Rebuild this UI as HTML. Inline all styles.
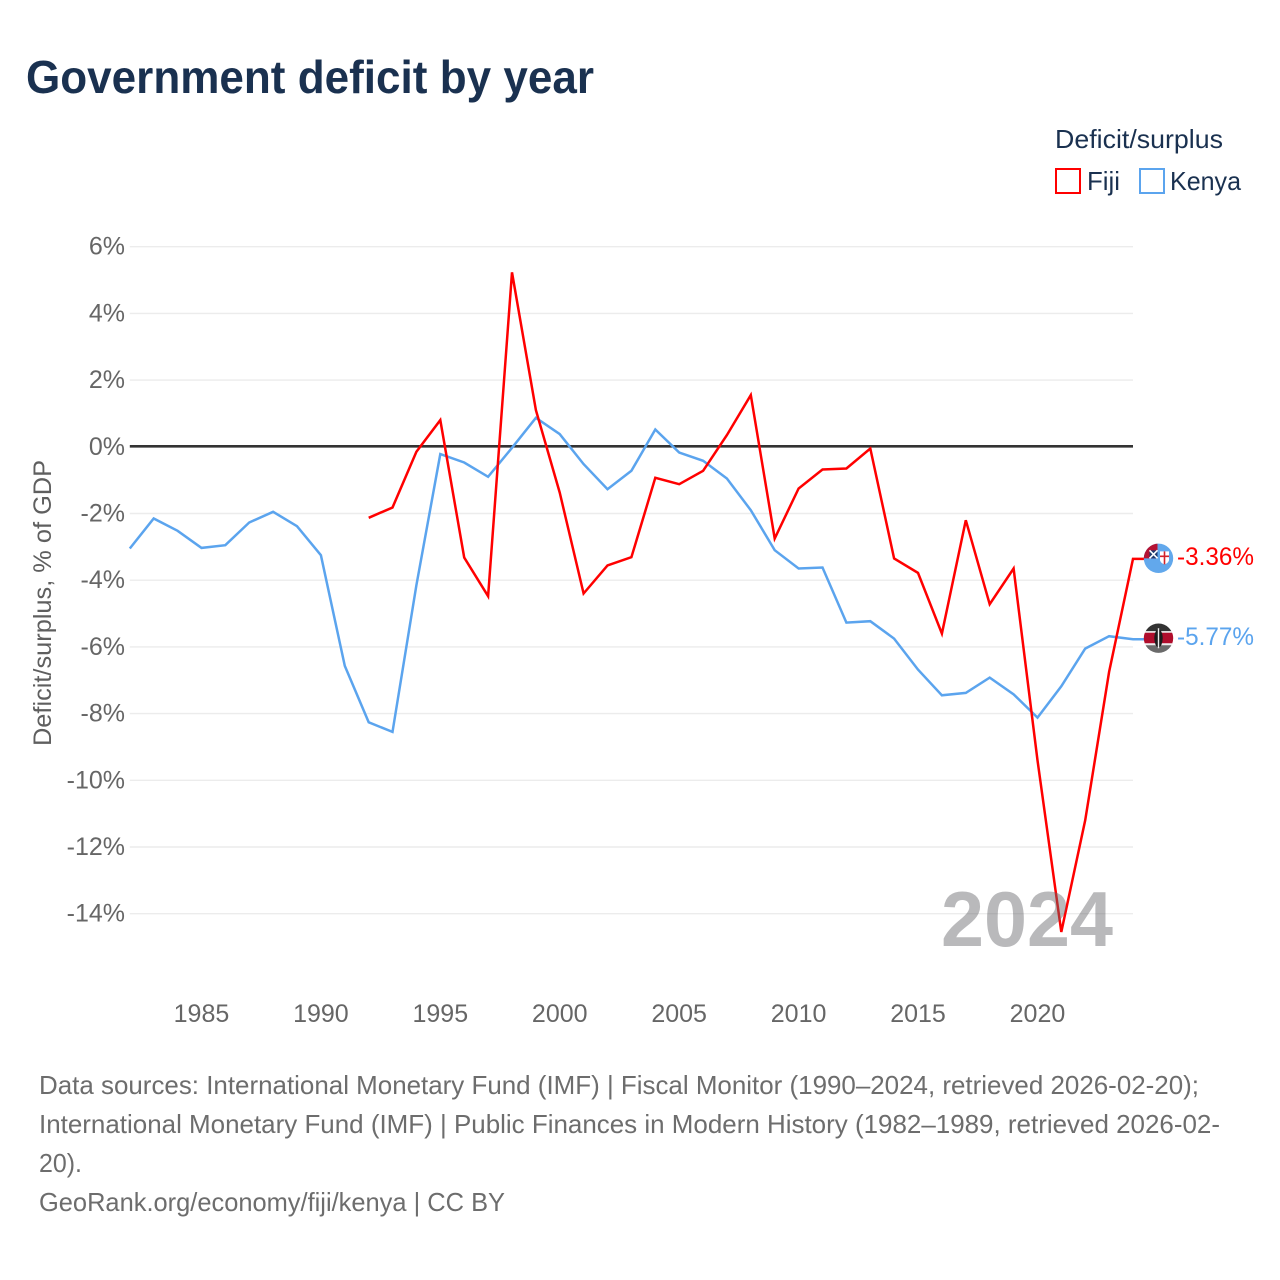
<!DOCTYPE html>
<html lang="en">
<head>
<meta charset="utf-8">
<title>Government deficit by year</title>
<style>
html,body{margin:0;padding:0;background:#fff;}
svg{display:block;font-family:"Liberation Sans",sans-serif;}
</style>
</head>
<body>
<svg id="chart" xmlns="http://www.w3.org/2000/svg" width="1280" height="1280" viewBox="0 0 1280 1280">
  <rect width="1280" height="1280" fill="#fff"/>
  <text x="26" y="93" font-size="46" font-weight="700" fill="#1a3150" textLength="568" lengthAdjust="spacingAndGlyphs">Government deficit by year</text>

  <g>
    <text x="1055" y="148" font-size="26" fill="#1a3150" textLength="168" lengthAdjust="spacingAndGlyphs">Deficit/surplus</text>
    <g>
      <rect x="1056" y="169" width="24" height="24" fill="#fff" stroke="#ff0000" stroke-width="2"/>
      <text x="1087" y="190" font-size="26" fill="#1a3150" textLength="33" lengthAdjust="spacingAndGlyphs">Fiji</text>
    </g>
    <g>
      <rect x="1140" y="169" width="24" height="24" fill="#fff" stroke="#5ba4ee" stroke-width="2"/>
      <text x="1170" y="190" font-size="26" fill="#1a3150" textLength="71" lengthAdjust="spacingAndGlyphs">Kenya</text>
    </g>
  </g>

  <text transform="translate(51,603) rotate(-90)" text-anchor="middle" font-size="25" fill="#5f5f5f" textLength="286" lengthAdjust="spacingAndGlyphs">Deficit/surplus, % of GDP</text>

  <g id="grid"></g>
  <g id="yticks"></g>
  <g id="xticks"></g>
  <line id="zero" stroke="#333" stroke-width="2.6"></line>
  <g id="series"></g>

  <text x="1113" y="946" text-anchor="end" font-size="78" font-weight="700" fill="rgba(100,100,105,.45)" textLength="172" lengthAdjust="spacingAndGlyphs">2024</text>

  <defs>
    <clipPath id="flag-clip"><circle cx="0" cy="0" r="14.7"/></clipPath>
  </defs>

  <g id="flag-fiji" clip-path="url(#flag-clip)">
    <rect x="-16" y="-16" width="32" height="32" fill="#62a8ec"/>
    <rect x="-16" y="-16" width="15" height="16" fill="#b51233"/>
    <rect x="-9" y="-8" width="8" height="8" fill="#1d3a70"/>
    <path d="M-9 -8 L-1 0 M-1 -8 L-9 0" stroke="#fff" stroke-width="1.6"/>
    <path d="M1.5 -7 H10.5 V2 Q9.5 5 6 6 Q2.5 5 1.5 2 Z" fill="#fff"/>
    <path d="M6 -7 V6 M1.5 -2 H10.5" stroke="#d2232a" stroke-width="1.6"/>
  </g>
  <g id="flag-kenya" clip-path="url(#flag-clip)">
    <rect x="-16" y="-16" width="32" height="9" fill="#333"/>
    <rect x="-16" y="-7" width="32" height="2" fill="#eee"/>
    <rect x="-16" y="-5.5" width="32" height="11" fill="#b00d2c"/>
    <rect x="-16" y="5" width="32" height="2" fill="#eee"/>
    <rect x="-16" y="7" width="32" height="9" fill="#6a6a6a"/>
    <ellipse cx="0" cy="0" rx="4.2" ry="9" fill="#1c1c1c"/>
    <rect x="-0.7" y="-10" width="1.4" height="20" fill="#eee"/>
  </g>
  <g id="end-labels"></g>

  <g font-size="26" fill="#6d6d6d">
    <text x="39" y="1094" textLength="1160" lengthAdjust="spacingAndGlyphs">Data sources: International Monetary Fund (IMF) | Fiscal Monitor (1990–2024, retrieved 2026-02-20);</text>
    <text x="39" y="1133" textLength="1181" lengthAdjust="spacingAndGlyphs">International Monetary Fund (IMF) | Public Finances in Modern History (1982–1989, retrieved 2026-02-</text>
    <text x="39" y="1172" textLength="43" lengthAdjust="spacingAndGlyphs">20).</text>
    <text x="39" y="1211" textLength="466" lengthAdjust="spacingAndGlyphs">GeoRank.org/economy/fiji/kenya | CC BY</text>
  </g>
</svg>
<script>
const years = [1982,1983,1984,1985,1986,1987,1988,1989,1990,1991,1992,1993,1994,1995,1996,1997,1998,1999,2000,2001,2002,2003,2004,2005,2006,2007,2008,2009,2010,2011,2012,2013,2014,2015,2016,2017,2018,2019,2020,2021,2022,2023,2024];
const fijiValues = [null,null,null,null,null,null,null,null,null,null,-2.13,-1.82,-0.15,0.8,-3.32,-4.48,5.23,1.1,-1.37,-4.4,-3.56,-3.31,-0.93,-1.12,-0.72,0.35,1.55,-2.75,-1.25,-0.68,-0.65,-0.05,-3.35,-3.78,-5.6,-2.2,-4.72,-3.65,-9.4,-14.55,-11.2,-6.75,-3.36];
const kenyaValues = [-3.05,-2.15,-2.52,-3.03,-2.95,-2.27,-1.95,-2.38,-3.25,-6.57,-8.26,-8.55,-4.15,-0.22,-0.47,-0.9,-0.03,0.87,0.38,-0.52,-1.27,-0.72,0.52,-0.17,-0.42,-0.95,-1.9,-3.1,-3.65,-3.62,-5.27,-5.23,-5.75,-6.68,-7.45,-7.38,-6.92,-7.42,-8.12,-7.18,-6.05,-5.68,-5.77];
const yTickValues = [6,4,2,0,-2,-4,-6,-8,-10,-12,-14];
const xTickValues = [1985,1990,1995,2000,2005,2010,2015,2020];

const NS = 'http://www.w3.org/2000/svg';
const plotLeft = 129.8, plotRight = 1133;
const xScale = function (yr) { return plotLeft + (yr - years[0]) * (plotRight - plotLeft) / (years[years.length - 1] - years[0]); };
const yScale = function (v) { return 446.8 - v * 33.35; };

function make(tag, attrs, parent) {
  const el = document.createElementNS(NS, tag);
  for (const k in attrs) el.setAttribute(k, attrs[k]);
  parent.appendChild(el);
  return el;
}

const gridG = document.getElementById('grid');
const yTickG = document.getElementById('yticks');
yTickValues.forEach(function (v) {
  if (v !== 0) {
    const ln = make('line', {x1: plotLeft, x2: plotRight, y1: yScale(v), y2: yScale(v), stroke: '#ececec', 'stroke-width': 1.4}, gridG);
    
    
  }
  const t = make('text', {x: 125, y: yScale(v) + 8, 'text-anchor': 'end', 'font-size': 25, fill: '#666'}, yTickG);
  t.textContent = v + '%';
  
  
});

const zero = document.getElementById('zero');
zero.setAttribute('x1', plotLeft);
zero.setAttribute('x2', plotRight);
zero.setAttribute('y1', yScale(0) - 0.5);
zero.setAttribute('y2', yScale(0) - 0.5);

const xTickG = document.getElementById('xticks');
xTickValues.forEach(function (yr) {
  const t = make('text', {x: xScale(yr), y: 1022, 'text-anchor': 'middle', 'font-size': 25, fill: '#666'}, xTickG);
  t.textContent = yr;
  
  
});

const flagX = 1158.5;
function linePoints(values) {
  const pts = [];
  values.forEach(function (v, i) {
    if (v !== null) pts.push(xScale(years[i]).toFixed(1) + ',' + yScale(v).toFixed(1));
  });
  const last = values[values.length - 1];
  pts.push(flagX + ',' + yScale(last).toFixed(1));
  return pts.join(' ');
}

const seriesG = document.getElementById('series');
const kenyaLine = make('polyline', {points: linePoints(kenyaValues), fill: 'none', stroke: '#5ba4ee', 'stroke-width': 2.5, 'stroke-linejoin': 'miter'}, seriesG);


const fijiLine = make('polyline', {points: linePoints(fijiValues), fill: 'none', stroke: '#ff0000', 'stroke-width': 2.5, 'stroke-linejoin': 'miter'}, seriesG);



const fijiLast = fijiValues[fijiValues.length - 1];
const kenyaLast = kenyaValues[kenyaValues.length - 1];
document.getElementById('flag-fiji').setAttribute('transform', 'translate(' + flagX + ',' + (yScale(fijiLast) - 0.5) + ')');
document.getElementById('flag-kenya').setAttribute('transform', 'translate(' + flagX + ',' + (yScale(kenyaLast) - 1) + ')');

const endG = document.getElementById('end-labels');
const fijiEnd = make('text', {x: 1177, y: yScale(fijiLast) + 6, 'font-size': 25, fill: '#ff0000', textLength: 77, lengthAdjust: 'spacingAndGlyphs'}, endG);
fijiEnd.textContent = fijiLast.toFixed(2) + '%';


const kenyaEnd = make('text', {x: 1177, y: yScale(kenyaLast) + 6, 'font-size': 25, fill: '#5ba4ee', textLength: 77, lengthAdjust: 'spacingAndGlyphs'}, endG);
kenyaEnd.textContent = kenyaLast.toFixed(2) + '%';


</script>
</body>
</html>
